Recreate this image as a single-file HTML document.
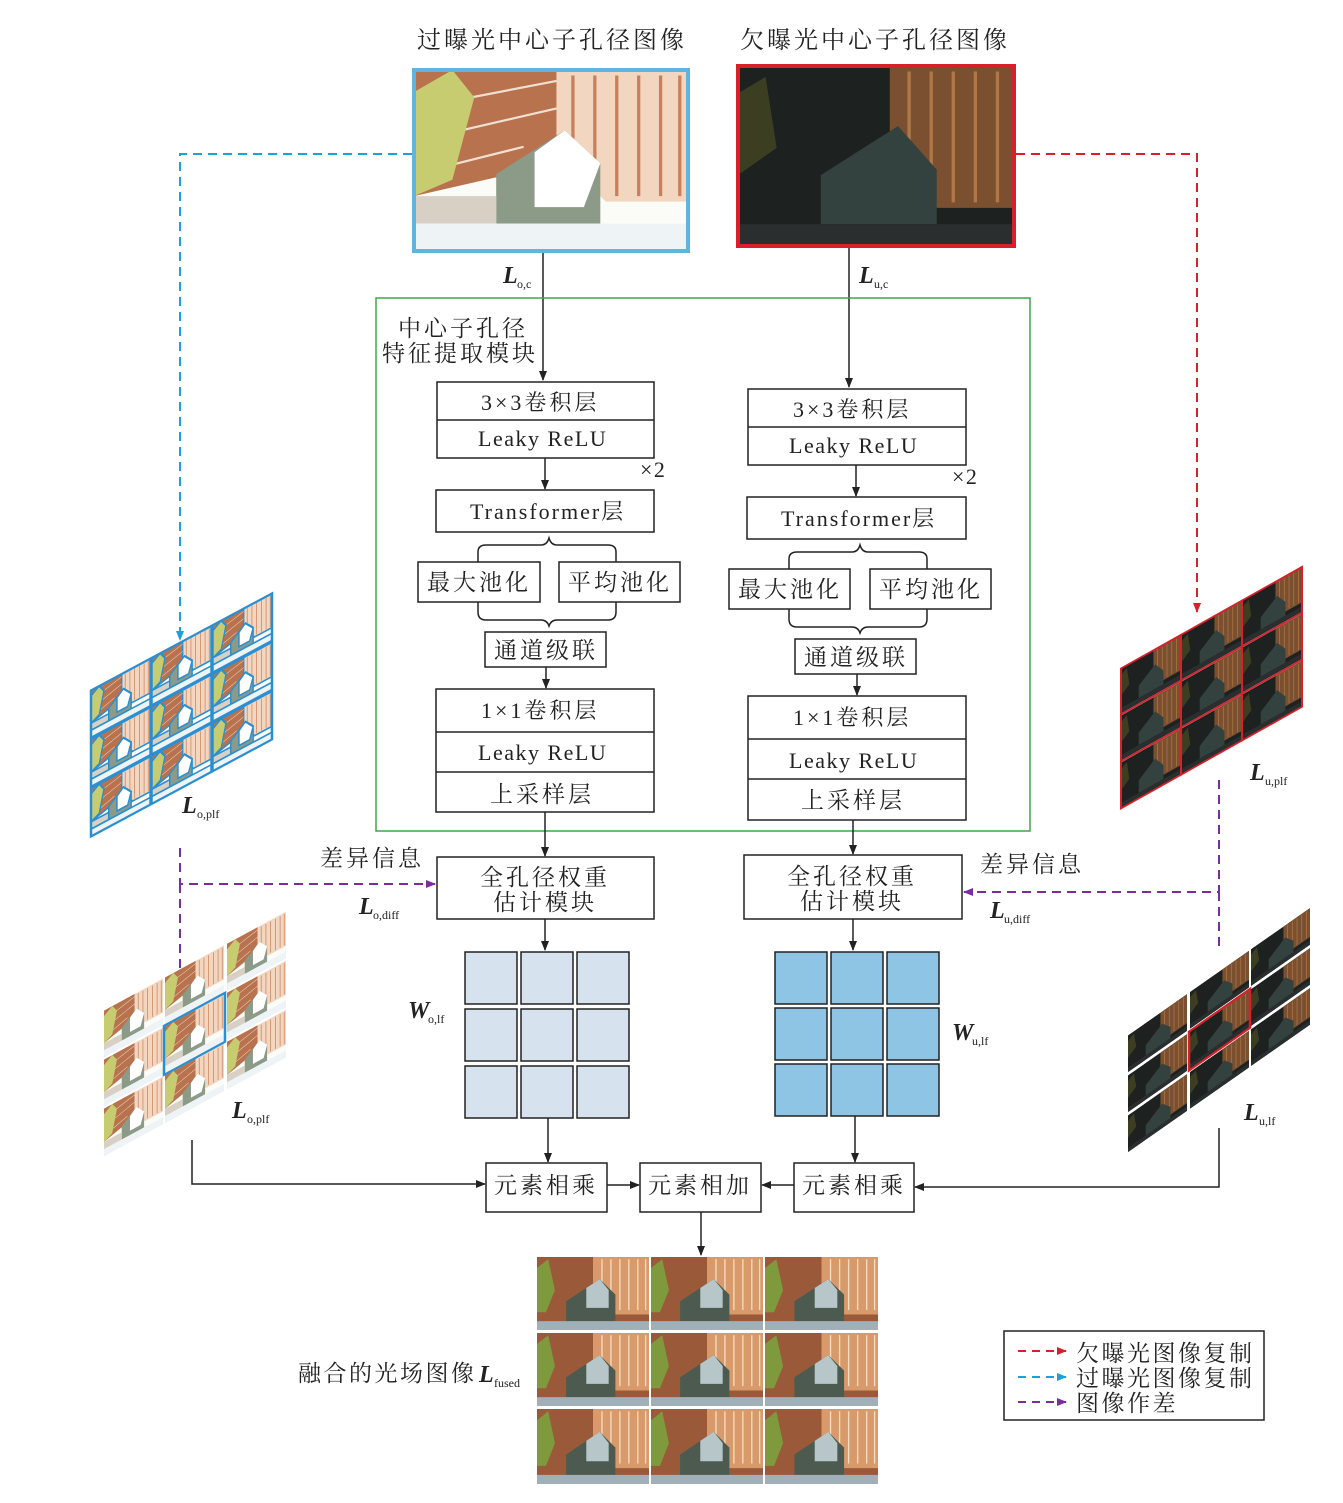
<!DOCTYPE html>
<html><head><meta charset="utf-8"><style>
html,body{margin:0;padding:0;background:#fff}
svg{display:block}
text{font-family:"Liberation Serif","Noto Serif CJK SC",serif;fill:#222}
.c{font-size:23px;letter-spacing:3px}
.l{font-size:22px;letter-spacing:1.5px}
.it{font-family:"Liberation Serif",serif;font-weight:bold;font-style:italic;font-size:24px}
.sub{font-family:"Liberation Serif",serif;font-size:12px}
</style></head><body>
<svg width="1343" height="1503" viewBox="0 0 1343 1503" xmlns="http://www.w3.org/2000/svg">
<defs>
<marker id="ak" markerWidth="10" markerHeight="10" refX="9" refY="5" orient="auto" markerUnits="userSpaceOnUse"><path d="M0,1 L10,5 L0,9 Z" fill="#222"/></marker>
<marker id="ab" markerWidth="10" markerHeight="10" refX="9" refY="5" orient="auto" markerUnits="userSpaceOnUse"><path d="M0,1 L10,5 L0,9 Z" fill="#1ea0dc"/></marker>
<marker id="ar" markerWidth="10" markerHeight="10" refX="9" refY="5" orient="auto" markerUnits="userSpaceOnUse"><path d="M0,1 L10,5 L0,9 Z" fill="#d8202a"/></marker>
<marker id="ap" markerWidth="10" markerHeight="10" refX="9" refY="5" orient="auto" markerUnits="userSpaceOnUse"><path d="M0,1 L10,5 L0,9 Z" fill="#7a2e9a"/></marker>
<symbol id="bright" viewBox="0 0 100 66" preserveAspectRatio="none">
<rect width="100" height="66" fill="#fbfbf8"/>
<polygon points="0,0 52,0 52,30 35,38 0,46" fill="#b8724e"/>
<polygon points="52,0 100,0 100,48 70,48 52,30" fill="#f2d6c0"/>
<g stroke="#c9805a" stroke-width="1.2"><line x1="58" y1="2" x2="58" y2="40"/><line x1="66" y1="2" x2="66" y2="44"/><line x1="74" y1="2" x2="74" y2="46"/><line x1="82" y1="2" x2="82" y2="46"/><line x1="90" y1="2" x2="90" y2="46"/><line x1="97" y1="2" x2="97" y2="46"/></g>
<g stroke="#f0e0d0" stroke-width="0.8"><line x1="0" y1="14" x2="52" y2="4"/><line x1="0" y1="26" x2="52" y2="14"/><line x1="0" y1="38" x2="40" y2="28"/></g>
<polygon points="0,8 14,0 22,10 14,40 0,46" fill="#c8cc70"/>
<polygon points="30,38 55,22 68,34 68,56 30,56" fill="#8c9a88"/>
<polygon points="44,30 55,22 68,34 62,50 44,50" fill="#ffffff"/>
<rect x="0" y="46" width="30" height="10" fill="#d8d0c4"/>
<rect x="0" y="56" width="100" height="10" fill="#eef3f6"/>
</symbol>
<symbol id="dark" viewBox="0 0 100 66" preserveAspectRatio="none">
<rect width="100" height="66" fill="#1d2120"/>
<polygon points="55,0 100,0 100,52 70,52 55,30" fill="#7a5030"/>
<g stroke="#b07848" stroke-width="1.2"><line x1="62" y1="2" x2="62" y2="44"/><line x1="70" y1="2" x2="70" y2="50"/><line x1="78" y1="2" x2="78" y2="50"/><line x1="86" y1="2" x2="86" y2="50"/><line x1="94" y1="2" x2="94" y2="50"/></g>
<polygon points="30,40 58,22 72,38 72,58 30,58" fill="#34423f"/>
<polygon points="0,10 10,4 14,30 0,40" fill="#3c3e22"/>
<rect x="0" y="58" width="100" height="8" fill="#2a2e2e"/>
</symbol>
<symbol id="fused" viewBox="0 0 100 66" preserveAspectRatio="none">
<rect width="100" height="66" fill="#9a5a3a"/>
<polygon points="50,0 100,0 100,52 60,52 50,28" fill="#d89a6a"/>
<g stroke="#f3dcc0" stroke-width="1.2"><line x1="58" y1="2" x2="58" y2="40"/><line x1="66" y1="2" x2="66" y2="46"/><line x1="74" y1="2" x2="74" y2="48"/><line x1="82" y1="2" x2="82" y2="48"/><line x1="90" y1="2" x2="90" y2="48"/><line x1="97" y1="2" x2="97" y2="48"/></g>
<polygon points="0,10 10,2 16,30 8,50 0,50" fill="#7f9a3c"/>
<polygon points="26,40 56,20 70,34 70,58 26,58" fill="#4d5a50"/>
<polygon points="44,28 56,20 64,30 64,46 44,46" fill="#b7c6c8"/>
<rect x="0" y="58" width="100" height="8" fill="#9fb0b8"/>
</symbol>
</defs>

<text class="c" x="417" y="48" style="font-size:24px">过曝光中心子孔径图像</text>
<text class="c" x="740" y="48" style="font-size:24px">欠曝光中心子孔径图像</text>

<svg x="414" y="70" width="274" height="181"><use href="#bright" width="274" height="181"/></svg>
<rect x="414" y="70" width="274" height="181" fill="none" stroke="#5fb5e0" stroke-width="4"/>
<svg x="738" y="66" width="276" height="180"><use href="#dark" width="276" height="180"/></svg>
<rect x="738" y="66" width="276" height="180" fill="none" stroke="#d8202a" stroke-width="4"/>

<polyline points="412,154 180,154 180,640" fill="none" stroke="#1ea0dc" stroke-width="2" stroke-dasharray="9,6" marker-end="url(#ab)"/>
<polyline points="1016,154 1197,154 1197,612" fill="none" stroke="#d8202a" stroke-width="2" stroke-dasharray="9,6" marker-end="url(#ar)"/>

<polyline points="180,848 180,884 435,884" fill="none" stroke="#7a2e9a" stroke-width="2" stroke-dasharray="9,6" marker-end="url(#ap)"/>
<line x1="180" y1="884" x2="180" y2="975" stroke="#7a2e9a" stroke-width="2" stroke-dasharray="9,6"/>
<polyline points="1219,780 1219,892 964,892" fill="none" stroke="#7a2e9a" stroke-width="2" stroke-dasharray="9,6" marker-end="url(#ap)"/>
<line x1="1219" y1="892" x2="1219" y2="950" stroke="#7a2e9a" stroke-width="2" stroke-dasharray="9,6"/>

<text x="503" y="283" class="it">L</text><text x="517" y="288" class="sub">o,c</text>
<text x="859" y="283" class="it">L</text><text x="874" y="288" class="sub">u,c</text>
<line x1="543" y1="253" x2="543" y2="380" stroke="#222" stroke-width="1.5" marker-end="url(#ak)"/>
<line x1="849" y1="248" x2="849" y2="387" stroke="#222" stroke-width="1.5" marker-end="url(#ak)"/>

<rect x="376" y="298" width="654" height="533" fill="none" stroke="#3aa845" stroke-width="1.5"/>
<text class="c" x="398" y="336">中心子孔径</text>
<text class="c" x="382" y="361">特征提取模块</text>

<g fill="none" stroke="#222" stroke-width="1.5">
<rect x="437" y="382" width="217" height="76"/><line x1="437" y1="420" x2="654" y2="420"/>
<rect x="436" y="490" width="218" height="42"/>
<rect x="418" y="562" width="122" height="40"/><rect x="559" y="562" width="121" height="40"/>
<path d="M478,562 V552 Q478,545 486,545 H541 Q547,545 549,538 Q551,545 557,545 H608 Q616,545 616,552 V562"/>
<path d="M478,602 V612 Q478,620 486,620 H541 Q547,620 549,626 Q551,620 557,620 H608 Q616,620 616,612 V602"/>
<rect x="485" y="632" width="121" height="35"/>
<rect x="436" y="689" width="218" height="123"/><line x1="436" y1="732" x2="654" y2="732"/><line x1="436" y1="772" x2="654" y2="772"/>
<rect x="748" y="389" width="218" height="76"/><line x1="748" y1="427" x2="966" y2="427"/>
<rect x="747" y="497" width="219" height="42"/>
<rect x="729" y="569" width="121" height="40"/><rect x="870" y="569" width="121" height="40"/>
<path d="M789,569 V559 Q789,552 797,552 H852 Q858,552 860,545 Q862,552 868,552 H919 Q927,552 927,559 V569"/>
<path d="M789,609 V619 Q789,627 797,627 H852 Q858,627 860,633 Q862,627 868,627 H919 Q927,627 927,619 V609"/>
<rect x="795" y="639" width="121" height="35"/>
<rect x="748" y="696" width="218" height="124"/><line x1="748" y1="739" x2="966" y2="739"/><line x1="748" y1="779" x2="966" y2="779"/>
<rect x="437" y="857" width="217" height="62"/>
<rect x="744" y="855" width="218" height="64"/>
<rect x="486" y="1163" width="121" height="49"/>
<rect x="640" y="1163" width="121" height="49"/>
<rect x="794" y="1163" width="120" height="49"/>
<rect x="1004" y="1331" width="260" height="89"/>
</g>

<g stroke="#222" stroke-width="1.5" fill="none">
<line x1="545" y1="458" x2="545" y2="489" marker-end="url(#ak)"/>
<line x1="546" y1="667" x2="546" y2="688" marker-end="url(#ak)"/>
<line x1="545" y1="812" x2="545" y2="856" marker-end="url(#ak)"/>
<line x1="545" y1="919" x2="545" y2="950" marker-end="url(#ak)"/>
<line x1="548" y1="1118" x2="548" y2="1162" marker-end="url(#ak)"/>
<line x1="856" y1="465" x2="856" y2="496" marker-end="url(#ak)"/>
<line x1="857" y1="674" x2="857" y2="695" marker-end="url(#ak)"/>
<line x1="853" y1="820" x2="853" y2="854" marker-end="url(#ak)"/>
<line x1="853" y1="919" x2="853" y2="950" marker-end="url(#ak)"/>
<line x1="855" y1="1116" x2="855" y2="1162" marker-end="url(#ak)"/>
<line x1="607" y1="1185" x2="639" y2="1185" marker-end="url(#ak)"/>
<line x1="794" y1="1185" x2="762" y2="1185" marker-end="url(#ak)"/>
<line x1="701" y1="1212" x2="701" y2="1255" marker-end="url(#ak)"/>
<polyline points="192,1140 192,1184 485,1184" marker-end="url(#ak)"/>
<polyline points="1219,1128 1219,1187 915,1187" marker-end="url(#ak)"/>
</g>

<text class="l" x="481" y="410" style="letter-spacing:3px">3×3卷积层</text>
<text class="l" x="478" y="446">Leaky ReLU</text>
<text class="l" x="640" y="477">×2</text>
<text class="l" x="470" y="519" style="letter-spacing:2px">Transformer层</text>
<text class="c" x="427" y="590">最大池化</text>
<text class="c" x="568" y="590">平均池化</text>
<text class="c" x="494" y="658">通道级联</text>
<text class="l" x="481" y="718" style="letter-spacing:3px">1×1卷积层</text>
<text class="l" x="478" y="760">Leaky ReLU</text>
<text class="c" x="490" y="802">上采样层</text>

<text class="l" x="793" y="417" style="letter-spacing:3px">3×3卷积层</text>
<text class="l" x="789" y="453">Leaky ReLU</text>
<text class="l" x="952" y="484">×2</text>
<text class="l" x="781" y="526" style="letter-spacing:2px">Transformer层</text>
<text class="c" x="738" y="597">最大池化</text>
<text class="c" x="879" y="597">平均池化</text>
<text class="c" x="804" y="665">通道级联</text>
<text class="l" x="793" y="725" style="letter-spacing:3px">1×1卷积层</text>
<text class="l" x="789" y="768">Leaky ReLU</text>
<text class="c" x="801" y="808">上采样层</text>

<text class="c" x="480" y="885">全孔径权重</text>
<text class="c" x="493" y="910">估计模块</text>
<text class="c" x="787" y="884">全孔径权重</text>
<text class="c" x="800" y="909">估计模块</text>

<text class="c" x="320" y="866">差异信息</text>
<text class="c" x="980" y="872">差异信息</text>
<text x="359" y="914" class="it">L</text><text x="373" y="919" class="sub">o,diff</text>
<text x="990" y="918" class="it">L</text><text x="1004" y="923" class="sub">u,diff</text>

<g stroke="#222" stroke-width="1.5" fill="#d6e3ee">
<rect x="465" y="952" width="52" height="52"/><rect x="521" y="952" width="52" height="52"/><rect x="577" y="952" width="52" height="52"/>
<rect x="465" y="1009" width="52" height="52"/><rect x="521" y="1009" width="52" height="52"/><rect x="577" y="1009" width="52" height="52"/>
<rect x="465" y="1066" width="52" height="52"/><rect x="521" y="1066" width="52" height="52"/><rect x="577" y="1066" width="52" height="52"/>
</g>
<g stroke="#222" stroke-width="1.5" fill="#8ec4e4">
<rect x="775" y="952" width="52" height="52"/><rect x="831" y="952" width="52" height="52"/><rect x="887" y="952" width="52" height="52"/>
<rect x="775" y="1008" width="52" height="52"/><rect x="831" y="1008" width="52" height="52"/><rect x="887" y="1008" width="52" height="52"/>
<rect x="775" y="1064" width="52" height="52"/><rect x="831" y="1064" width="52" height="52"/><rect x="887" y="1064" width="52" height="52"/>
</g>
<text x="408" y="1018" class="it">W</text><text x="428" y="1023" class="sub">o,lf</text>
<text x="952" y="1040" class="it">W</text><text x="972" y="1045" class="sub">u,lf</text>

<text class="c" x="494" y="1193">元素相乘</text>
<text class="c" x="648" y="1193">元素相加</text>
<text class="c" x="802" y="1193">元素相乘</text>

<g transform="translate(90,690) skewY(-28.2)">
<rect x="0" y="0" width="183" height="148" fill="#fff"/>
<g stroke="#2a8fd0" stroke-width="2.5">
<svg x="1" y="1" width="59" height="47"><use href="#bright" width="59" height="47"/></svg>
<svg x="62" y="1" width="59" height="47"><use href="#bright" width="59" height="47"/></svg>
<svg x="123" y="1" width="59" height="47"><use href="#bright" width="59" height="47"/></svg>
<svg x="1" y="50" width="59" height="47"><use href="#bright" width="59" height="47"/></svg>
<svg x="62" y="50" width="59" height="47"><use href="#bright" width="59" height="47"/></svg>
<svg x="123" y="50" width="59" height="47"><use href="#bright" width="59" height="47"/></svg>
<svg x="1" y="99" width="59" height="48"><use href="#bright" width="59" height="48"/></svg>
<svg x="62" y="99" width="59" height="48"><use href="#bright" width="59" height="48"/></svg>
<svg x="123" y="99" width="59" height="48"><use href="#bright" width="59" height="48"/></svg>
<g fill="none"><rect x="1" y="1" width="181" height="146"/><line x1="61" y1="0" x2="61" y2="148"/><line x1="122" y1="0" x2="122" y2="148"/><line x1="0" y1="49" x2="183" y2="49"/><line x1="0" y1="98" x2="183" y2="98"/></g>
</g>
</g>
<text x="182" y="813" class="it">L</text><text x="197" y="818" class="sub">o,plf</text>

<g transform="translate(103,1010) skewY(-28.5)">
<rect x="0" y="0" width="184" height="148" fill="#fff"/>
<svg x="1" y="1" width="59" height="47"><use href="#bright" width="59" height="47"/></svg>
<svg x="62" y="1" width="59" height="47"><use href="#bright" width="59" height="47"/></svg>
<svg x="124" y="1" width="59" height="47"><use href="#bright" width="59" height="47"/></svg>
<svg x="1" y="50" width="59" height="47"><use href="#bright" width="59" height="47"/></svg>
<svg x="62" y="50" width="59" height="47"><use href="#bright" width="59" height="47"/></svg>
<svg x="124" y="50" width="59" height="47"><use href="#bright" width="59" height="47"/></svg>
<svg x="1" y="99" width="59" height="48"><use href="#bright" width="59" height="48"/></svg>
<svg x="62" y="99" width="59" height="48"><use href="#bright" width="59" height="48"/></svg>
<svg x="124" y="99" width="59" height="48"><use href="#bright" width="59" height="48"/></svg>
<rect x="61" y="49" width="61" height="49" fill="none" stroke="#2a8fd0" stroke-width="2.5"/>
</g>
<text x="232" y="1118" class="it">L</text><text x="247" y="1123" class="sub">o,plf</text>

<g transform="translate(1120,668) skewY(-29.3)">
<rect x="0" y="0" width="183" height="142" fill="#fff"/>
<svg x="1" y="1" width="59" height="45"><use href="#dark" width="59" height="45"/></svg>
<svg x="62" y="1" width="59" height="45"><use href="#dark" width="59" height="45"/></svg>
<svg x="123" y="1" width="59" height="45"><use href="#dark" width="59" height="45"/></svg>
<svg x="1" y="48" width="59" height="45"><use href="#dark" width="59" height="45"/></svg>
<svg x="62" y="48" width="59" height="45"><use href="#dark" width="59" height="45"/></svg>
<svg x="123" y="48" width="59" height="45"><use href="#dark" width="59" height="45"/></svg>
<svg x="1" y="95" width="59" height="46"><use href="#dark" width="59" height="46"/></svg>
<svg x="62" y="95" width="59" height="46"><use href="#dark" width="59" height="46"/></svg>
<svg x="123" y="95" width="59" height="46"><use href="#dark" width="59" height="46"/></svg>
<g fill="none" stroke="#d8202a" stroke-width="2"><rect x="1" y="1" width="181" height="140"/><line x1="61" y1="0" x2="61" y2="142"/><line x1="122" y1="0" x2="122" y2="142"/><line x1="0" y1="47" x2="183" y2="47"/><line x1="0" y1="94" x2="183" y2="94"/></g>
</g>
<text x="1250" y="780" class="it">L</text><text x="1265" y="785" class="sub">u,plf</text>

<g transform="translate(1127,1035) skewY(-35)">
<rect x="0" y="0" width="184" height="118" fill="#fff"/>
<svg x="1" y="1" width="59" height="37"><use href="#dark" width="59" height="37"/></svg>
<svg x="63" y="1" width="59" height="37"><use href="#dark" width="59" height="37"/></svg>
<svg x="124" y="1" width="59" height="37"><use href="#dark" width="59" height="37"/></svg>
<svg x="1" y="41" width="59" height="37"><use href="#dark" width="59" height="37"/></svg>
<svg x="63" y="41" width="59" height="37"><use href="#dark" width="59" height="37"/></svg>
<svg x="124" y="41" width="59" height="37"><use href="#dark" width="59" height="37"/></svg>
<svg x="1" y="81" width="59" height="37"><use href="#dark" width="59" height="37"/></svg>
<svg x="63" y="81" width="59" height="37"><use href="#dark" width="59" height="37"/></svg>
<svg x="124" y="81" width="59" height="37"><use href="#dark" width="59" height="37"/></svg>
<rect x="62" y="40" width="61" height="39" fill="none" stroke="#d8202a" stroke-width="2.5"/>
</g>
<text x="1244" y="1120" class="it">L</text><text x="1259" y="1125" class="sub">u,lf</text>

<g>
<svg x="537" y="1257" width="112" height="73"><use href="#fused" width="112" height="73"/></svg>
<svg x="651" y="1257" width="112" height="73"><use href="#fused" width="112" height="73"/></svg>
<svg x="765" y="1257" width="113" height="73"><use href="#fused" width="113" height="73"/></svg>
<svg x="537" y="1333" width="112" height="73"><use href="#fused" width="112" height="73"/></svg>
<svg x="651" y="1333" width="112" height="73"><use href="#fused" width="112" height="73"/></svg>
<svg x="765" y="1333" width="113" height="73"><use href="#fused" width="113" height="73"/></svg>
<svg x="537" y="1409" width="112" height="75"><use href="#fused" width="112" height="75"/></svg>
<svg x="651" y="1409" width="112" height="75"><use href="#fused" width="112" height="75"/></svg>
<svg x="765" y="1409" width="113" height="75"><use href="#fused" width="113" height="75"/></svg>
</g>
<text class="l" x="298" y="1381" style="font-size:23px;letter-spacing:2.5px">融合的光场图像</text>
<text x="479" y="1382" class="it">L</text><text x="494" y="1387" class="sub">fused</text>

<line x1="1018" y1="1351" x2="1066" y2="1351" stroke="#d8202a" stroke-width="2" stroke-dasharray="8,6" marker-end="url(#ar)"/>
<line x1="1018" y1="1377" x2="1066" y2="1377" stroke="#1ea0dc" stroke-width="2" stroke-dasharray="8,6" marker-end="url(#ab)"/>
<line x1="1018" y1="1402" x2="1066" y2="1402" stroke="#7a2e9a" stroke-width="2" stroke-dasharray="8,6" marker-end="url(#ap)"/>
<text class="l" x="1076" y="1361" style="font-size:23px;letter-spacing:2.5px">欠曝光图像复制</text>
<text class="l" x="1076" y="1386" style="font-size:23px;letter-spacing:2.5px">过曝光图像复制</text>
<text class="l" x="1076" y="1411" style="font-size:23px;letter-spacing:2.5px">图像作差</text>
</svg>
</body></html>
